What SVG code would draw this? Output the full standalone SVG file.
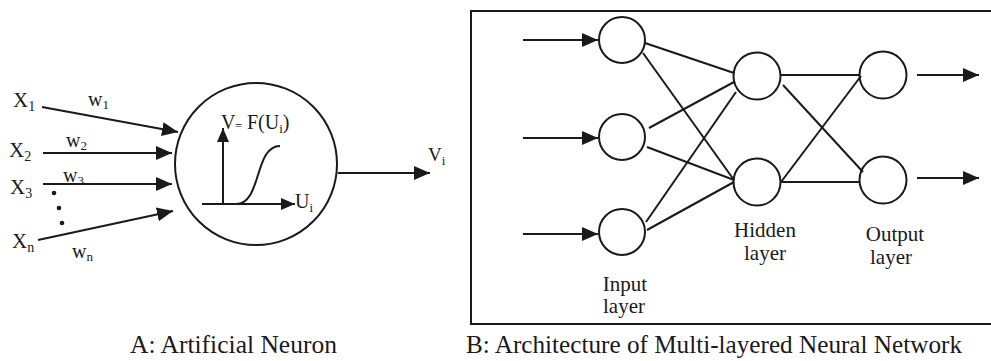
<svg xmlns="http://www.w3.org/2000/svg" width="991" height="361" viewBox="0 0 991 361">
<defs>
<style>
.t{font-family:"Liberation Serif","Times New Roman",serif;fill:#1a1a1a}
.ln{stroke:#1a1a1a;stroke-width:2;fill:none}
.nd{stroke:#1a1a1a;stroke-width:2;fill:none}
</style>
<marker id="ah" viewBox="0 0 16 14" refX="16" refY="7" markerWidth="16" markerHeight="14" markerUnits="userSpaceOnUse" orient="auto">
<path d="M0,0 L16,7 L0,14 z" fill="#1a1a1a"/>
</marker>
<marker id="ahs" viewBox="0 0 14 12" refX="14" refY="6" markerWidth="14" markerHeight="12" markerUnits="userSpaceOnUse" orient="auto">
<path d="M0,0 L14,6 L0,12 z" fill="#1a1a1a"/>
</marker>
</defs>
<rect width="991" height="361" fill="#ffffff"/>

<!-- Part A: artificial neuron -->
<g id="inputs-a" class="t" font-size="21">
<text x="13" y="107">X<tspan font-size="14" dy="4">1</tspan></text>
<text x="9" y="157">X<tspan font-size="14" dy="4">2</tspan></text>
<text x="10" y="194">X<tspan font-size="14" dy="4">3</tspan></text>
<text x="12" y="248">X<tspan font-size="14" dy="4">n</tspan></text>
</g>
<g id="weights-a" class="t" font-size="20">
<text x="88" y="106">w<tspan font-size="13" dy="3">1</tspan></text>
<text x="66" y="147">w<tspan font-size="13" dy="3">2</tspan></text>
<text x="63" y="182">w<tspan font-size="13" dy="3">3</tspan></text>
<text x="72" y="258">w<tspan font-size="13" dy="3">n</tspan></text>
</g>
<g id="dots-a" fill="#1a1a1a">
<circle cx="54" cy="193" r="2.3"/>
<circle cx="59" cy="208" r="2.3"/>
<circle cx="62" cy="223" r="2.3"/>
</g>

<g id="neuron">
<circle cx="256" cy="164" r="81" class="nd"/>
<line x1="223" y1="204" x2="223" y2="128" class="ln" marker-end="url(#ahs)"/>
<line x1="202" y1="204" x2="295" y2="204" class="ln" marker-end="url(#ahs)"/>
<path d="M236 204 C262 204 254 146 280 146" class="ln"/>
<text class="t" font-size="20" x="221" y="129">V</text>
<text class="t" font-size="13" x="235" y="130">=</text>
<text class="t" font-size="20" x="247" y="129">F(U<tspan font-size="13" dy="4">i</tspan><tspan dy="-4">)</tspan></text>
<text class="t" font-size="20" x="295" y="208">U<tspan font-size="13" dy="4">i</tspan></text>
</g>

<g id="output-a">
<text class="t" font-size="19" x="428" y="161">V<tspan font-size="13" dy="4">i</tspan></text>
</g>

<g id="connectors-a">
<line x1="42" y1="107" x2="178" y2="132" class="ln" marker-end="url(#ah)"/>
<line x1="43" y1="153" x2="172" y2="153" class="ln" marker-end="url(#ah)"/>
<line x1="43" y1="184" x2="172" y2="184" class="ln" marker-end="url(#ah)"/>
<line x1="38" y1="240" x2="173" y2="211" class="ln" marker-end="url(#ah)"/>
<line x1="338" y1="173" x2="430" y2="173" class="ln" marker-end="url(#ah)"/>
</g>

<text id="caption-a" class="t" font-size="26" x="130" y="353" textLength="207" lengthAdjust="spacingAndGlyphs">A: Artificial Neuron</text>

<!-- Part B: multi-layered network -->
<path id="frame-b" d="M995 11 H471 V324 H995" class="ln"/>

<g id="in1"><circle cx="622" cy="40" r="23" class="nd"/></g>
<g id="in2"><circle cx="622" cy="137" r="23" class="nd"/></g>
<g id="in3"><circle cx="622" cy="232" r="23" class="nd"/></g>
<g id="h1"><circle cx="757" cy="76" r="23.5" class="nd"/></g>
<g id="h2"><circle cx="757" cy="182" r="23.5" class="nd"/></g>
<g id="o1"><circle cx="883" cy="75" r="23.5" class="nd"/></g>
<g id="o2"><circle cx="883" cy="180" r="23.5" class="nd"/></g>

<g id="labels-b" class="t" font-size="21" text-anchor="middle">
<text x="625" y="291">Input</text>
<text x="624" y="313">layer</text>
<text x="765" y="237">Hidden</text>
<text x="765" y="260">layer</text>
<text x="895" y="241">Output</text>
<text x="891" y="264">layer</text>
</g>

<g id="connectors-b">
<line x1="523" y1="40" x2="598" y2="40" class="ln" marker-end="url(#ah)"/>
<line x1="523" y1="138" x2="598" y2="138" class="ln" marker-end="url(#ah)"/>
<line x1="523" y1="234" x2="598" y2="234" class="ln" marker-end="url(#ah)"/>
<line x1="645" y1="43" x2="734" y2="73" class="ln"/>
<line x1="643" y1="53" x2="734" y2="180" class="ln"/>
<line x1="649" y1="128" x2="734" y2="82" class="ln"/>
<line x1="647" y1="147" x2="734" y2="180" class="ln"/>
<line x1="646" y1="222" x2="736" y2="92" class="ln"/>
<line x1="647" y1="230" x2="734" y2="182" class="ln"/>
<line x1="781" y1="75" x2="860" y2="75" class="ln"/>
<line x1="783" y1="85" x2="863" y2="172" class="ln"/>
<line x1="781" y1="182" x2="861" y2="76" class="ln"/>
<line x1="781" y1="182" x2="860" y2="182" class="ln"/>
<line x1="917" y1="75" x2="979" y2="75" class="ln" marker-end="url(#ah)"/>
<line x1="917" y1="178" x2="979" y2="178" class="ln" marker-end="url(#ah)"/>
</g>

<text id="caption-b" class="t" font-size="26" x="466" y="353" textLength="496" lengthAdjust="spacingAndGlyphs">B: Architecture of Multi-layered Neural Network</text>
</svg>
